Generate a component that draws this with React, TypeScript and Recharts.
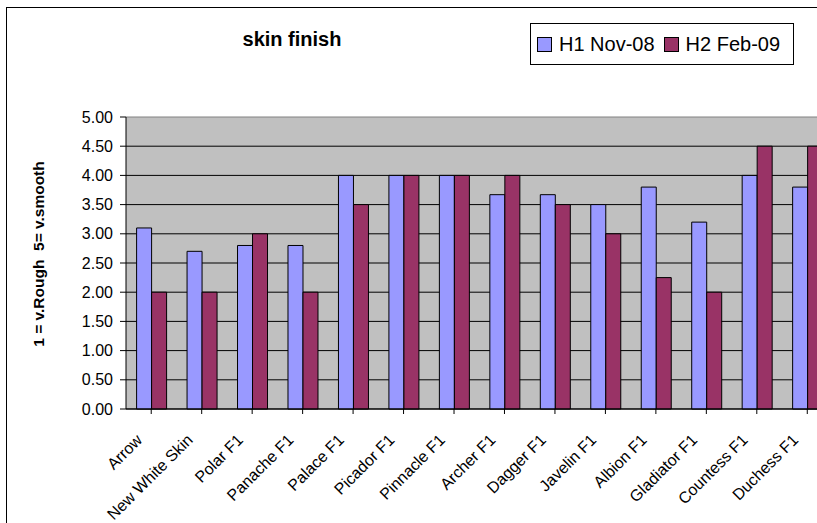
import React from 'react';
import { BarChart, Bar, XAxis, YAxis, CartesianGrid, Legend, Customized } from 'recharts';

const categories = ['Arrow', 'New White Skin', 'Polar F1', 'Panache F1', 'Palace F1', 'Picador F1', 'Pinnacle F1', 'Archer F1', 'Dagger F1', 'Javelin F1', 'Albion F1', 'Gladiator F1', 'Countess F1', 'Duchess F1'];
const h1Nov08 = [3.1, 2.7, 2.8, 2.8, 4.0, 4.0, 4.0, 3.67, 3.67, 3.5, 3.8, 3.2, 4.0, 3.8];
const h2Feb09 = [2.0, 2.0, 3.0, 2.0, 3.5, 4.0, 4.0, 4.0, 3.5, 3.0, 2.25, 2.0, 4.5, 4.5];
const yTicks = [0, 0.5, 1, 1.5, 2, 2.5, 3, 3.5, 4, 4.5, 5];

const seriesNames = ['H1 Nov-08', 'H2 Feb-09'];
const seriesColors = ['#9999FF', '#993366'];
const titleText = 'skin finish';
const yLabelText = '1 = v.Rough  5= v.smooth';

const data = categories.map((name, i) => ({ name, h1: h1Nov08[i], h2: h2Feb09[i] }));

const FONT = '"Liberation Sans", Arial, sans-serif';

const XTick = (props: any) => {
  const { x, y, payload } = props;
  const x0 = x - 8;
  const y0 = y + 25;
  return (
    <text x={x0} y={y0} textAnchor="end" fontSize={16} fontFamily={FONT} fill="#000" transform={`rotate(-45 ${x0} ${y0})`}>
      {payload.value}
    </text>
  );
};

const LegendContent = () => (
  <div style={{ boxSizing: 'border-box', width: 264, height: 42, border: '1px solid #000', background: '#fff', display: 'flex', alignItems: 'center', paddingLeft: 6, fontFamily: FONT, fontSize: 20, color: '#000', whiteSpace: 'nowrap' }}>
    {seriesNames.map((n, i) => (
      <div key={n} style={{ display: 'flex', alignItems: 'center', marginRight: 9 }}>
        <span style={{ display: 'inline-block', boxSizing: 'border-box', width: 15, height: 15, background: seriesColors[i], border: '1px solid #000', marginRight: 7 }} />
        <span>{n}</span>
      </div>
    ))}
  </div>
);

const Decorations = () => (
  <g>
    <text x={292} y={46} textAnchor="middle" fontSize={20} fontWeight="bold" fontFamily={FONT} fill="#000">{titleText}</text>
    <text x={38} y={254} textAnchor="middle" dominantBaseline="central" fontSize={15.5} fontWeight="bold" fontFamily={FONT} fill="#000" style={{ whiteSpace: 'pre' }} transform="rotate(-90 38 254)">{yLabelText}</text>
  </g>
);

const GridLine = (props: any) => {
  const { x1, x2, y1, y2, index } = props;
  const isTop = index === yTicks.length - 1 || y1 < 120;
  return <line x1={x1} x2={x2} y1={y1} y2={y2} stroke={isTop ? '#808080' : '#000'} strokeWidth={1} />;
};

export default function App() {
  return (
    <div style={{ position: 'fixed', left: 0, top: 0, width: 817, height: 523, overflow: 'hidden', background: '#fff' }}>
      <div style={{ position: 'absolute', left: 6, top: 7, width: 1000, height: 1000, border: '1px solid #000' }} />
      <div style={{ position: 'absolute', left: 0, top: 0 }}>
        <BarChart width={840} height={523} data={data} margin={{ top: 117, right: 7.5, bottom: 14, left: 0 }} barCategoryGap="21%" barGap={0}>
          <CartesianGrid fill="#C0C0C0" vertical={false} horizontal={(p: any) => <GridLine {...p} />} />
          <XAxis dataKey="name" interval={0} height={100} tick={<XTick />} tickLine={{ stroke: '#000' }} tickSize={5} axisLine={{ stroke: '#000' }} />
          <YAxis width={126} domain={[0, 5]} ticks={yTicks} tickFormatter={(v: number) => v.toFixed(2)} tick={{ fill: '#000', fontSize: 16, fontFamily: FONT }} tickLine={{ stroke: '#000' }} tickSize={6} tickMargin={7} axisLine={{ stroke: '#000' }} />
          <Legend layout="vertical" align="center" verticalAlign="middle" wrapperStyle={{ position: 'absolute', left: 530, top: 23, width: 264, height: 42 }} content={<LegendContent />} />
          <Bar dataKey="h1" name={seriesNames[0]} fill={seriesColors[0]} stroke="#000" strokeWidth={1} isAnimationActive={false} />
          <Bar dataKey="h2" name={seriesNames[1]} fill={seriesColors[1]} stroke="#000" strokeWidth={1} isAnimationActive={false} />
          <Customized component={Decorations} />
        </BarChart>
      </div>
    </div>
  );
}
